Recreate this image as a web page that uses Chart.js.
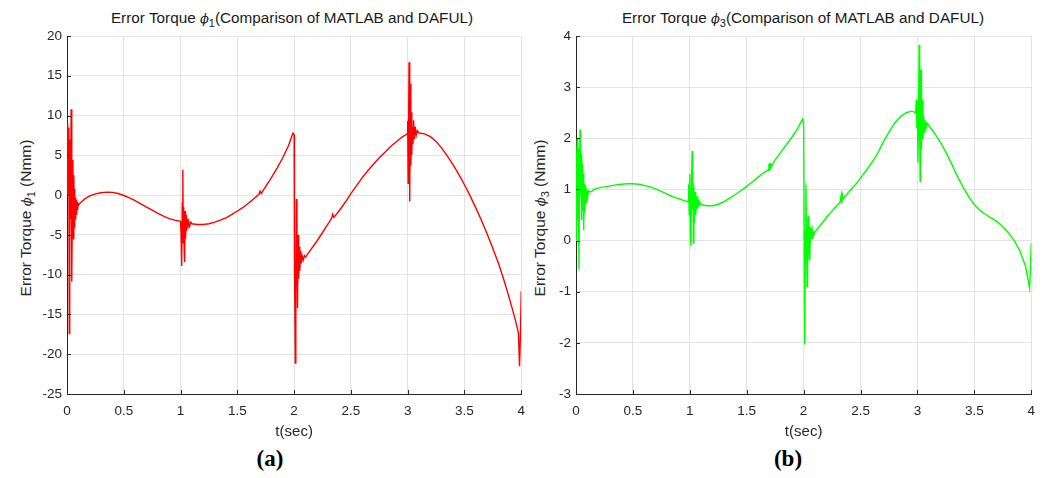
<!DOCTYPE html>
<html>
<head>
<meta charset="utf-8">
<script src="https://cdn.jsdelivr.net/npm/chart.js@4.4.0/dist/chart.umd.min.js"></script>
<style>
  body { margin: 0; background: #fff; width: 1043px; height: 478px; overflow: hidden; position: relative; font-family: "Liberation Sans", Arial, sans-serif; color: #262626; }
  .box { position: absolute; top: 0; }
  .title { position: absolute; top: 9px; font-size: 15.3px; white-space: nowrap; transform: translateX(-50%); color: #1a1a1a; }
  .ylab { position: absolute; font-size: 15.5px; white-space: nowrap; transform: translate(-50%, -50%) rotate(-90deg); }
  .sub { font-size: 11px; position: relative; top: 4px; }
  .phi { font-style: italic; font-family: "DejaVu Serif", serif; font-size: 13px; }
  .cap { position: absolute; top: 446px; font-family: "Liberation Serif", "DejaVu Serif", serif; font-weight: bold; font-size: 23px; transform: translateX(-50%); color: #000; }
</style>
</head>
<body>
<div class="title" style="left:292px">Error Torque <span class="phi">ϕ</span><span class="sub">1</span>(Comparison of MATLAB and DAFUL)</div>
<div class="title" style="left:803px">Error Torque <span class="phi">ϕ</span><span class="sub">3</span>(Comparison of MATLAB and DAFUL)</div>
<div class="ylab" style="left:26px; top:218px">Error Torque <span class="phi">ϕ</span><span class="sub">1</span> (Nmm)</div>
<div class="ylab" style="left:540px; top:218px">Error Torque <span class="phi">ϕ</span><span class="sub">3</span> (Nmm)</div>
<div class="box" style="left:0"><canvas id="chart1" width="534" height="445"></canvas></div>
<div class="box" style="left:520px"><canvas id="chart3" width="524" height="445"></canvas></div>
<div class="cap" style="left:270px">(a)</div>
<div class="cap" style="left:788px">(b)</div>
<script>
// time axis (sec) and error torque phi_1 (Nmm)
const t1 = [
  0, 0.004, 0.008, 0.012, 0.016, 0.02, 0.024, 0.028, 0.032, 0.036, 0.04, 0.044, 0.048, 0.052, 0.056,
  0.06, 0.064, 0.068, 0.072, 0.076, 0.08, 0.085, 0.09, 0.095, 0.1, 0.11, 0.13, 0.16, 0.2, 0.25,
  0.3, 0.35, 0.4, 0.45, 0.5, 0.55, 0.6, 0.65, 0.7, 0.75, 0.8, 0.85, 0.9, 0.95,
  1.0, 1.005, 1.01, 1.015, 1.02, 1.024, 1.028, 1.032, 1.036, 1.04, 1.044, 1.048, 1.052, 1.058, 1.064,
  1.07, 1.08, 1.09, 1.1, 1.15, 1.2, 1.25, 1.3, 1.35, 1.4, 1.45, 1.5, 1.55, 1.6, 1.65,
  1.69, 1.7, 1.71, 1.75, 1.8, 1.85, 1.9, 1.95, 1.99,
  2.0, 2.003, 2.01, 2.015, 2.02, 2.025, 2.03, 2.035, 2.04, 2.045, 2.05, 2.056, 2.062, 2.07, 2.08,
  2.09, 2.1, 2.15, 2.2, 2.25, 2.3, 2.33, 2.34, 2.35, 2.4, 2.45, 2.5, 2.55, 2.6, 2.65,
  2.7, 2.75, 2.8, 2.85, 2.9, 2.95, 2.995,
  3.0, 3.004, 3.008, 3.012, 3.016, 3.02, 3.024, 3.028, 3.032, 3.036, 3.04, 3.046, 3.052, 3.058, 3.066,
  3.075, 3.085, 3.1, 3.15, 3.2, 3.25, 3.3, 3.35, 3.4, 3.45, 3.5, 3.55, 3.6, 3.65,
  3.7, 3.75, 3.8, 3.85, 3.9, 3.95, 3.975, 3.985, 3.992, 4.0
];
const torque1 = [
  0, 6, 9.0, 2, 8.5, -17.4, -6, 7, -3, 10.8, 3, -10.9, 0, 4.4, -5.5,
  2.5, -4, 0.8, -3, -0.3, -2.4, -0.6, -1.8, -0.9, -1.3, -1.1, -0.8, -0.45, -0.1, 0.15,
  0.3, 0.37, 0.35, 0.2, -0.05, -0.35, -0.7, -1.1, -1.5, -1.9, -2.3, -2.65, -2.95, -3.15,
  -3.3, -5, -8.9, -1, 3.2, -6, -1.5, -7, -8.4, -2, -5.5, -2.5, -4.5, -3, -4.2,
  -3.3, -3.9, -3.4, -3.6, -3.7, -3.7, -3.6, -3.4, -3.15, -2.85, -2.45, -2.0, -1.55, -1.0, -0.4,
  0.1, 0.5, 0.2, 1.1, 2.2, 3.4, 4.7, 6.2, 7.8,
  7.6, -8, -21.1, -10, -0.5, -8, -14.2, -5, -10.5, -6.5, -9.5, -7, -8.6, -7.6, -8.2,
  -7.6, -7.8, -6.8, -5.8, -4.7, -3.6, -2.9, -2.4, -2.8, -1.9, -0.9, 0.2, 1.2, 2.2, 3.1,
  3.9, 4.7, 5.4, 6.1, 6.7, 7.3, 7.7,
  9.3, 1.5, 9, 16.7, 3, -0.8, 14, 3.7, 10.4, 5, 8.5, 6.4, 9.4, 7, 8.6,
  7.5, 8.1, 7.8, 7.7, 7.35, 6.75, 5.9, 4.9, 3.8, 2.6, 1.3, -0.1, -1.6, -3.2,
  -4.9, -6.7, -8.6, -10.8, -13.2, -15.8, -17.3, -21.5, -18, -12.1
];

// time axis (sec) and error torque phi_3 (Nmm)
const t3 = [
  0, 0.004, 0.008, 0.012, 0.016, 0.02, 0.026, 0.03, 0.036, 0.04, 0.044, 0.05, 0.054, 0.058, 0.062,
  0.068, 0.072, 0.078, 0.084, 0.09, 0.096, 0.102, 0.11, 0.13, 0.16, 0.2, 0.25, 0.3, 0.35, 0.4,
  0.45, 0.5, 0.55, 0.6, 0.65, 0.7, 0.75, 0.8, 0.85, 0.9, 0.95, 0.985,
  0.99, 0.995, 1.0, 1.005, 1.01, 1.015, 1.02, 1.024, 1.028, 1.032, 1.036, 1.04, 1.046, 1.052, 1.058,
  1.064, 1.072, 1.08, 1.09, 1.1, 1.15, 1.2, 1.25, 1.3, 1.35, 1.4, 1.45, 1.5, 1.55, 1.6, 1.65,
  1.69, 1.695, 1.7, 1.705, 1.71, 1.75, 1.8, 1.85, 1.9, 1.95, 1.99,
  2.0, 2.005, 2.01, 2.015, 2.02, 2.025, 2.03, 2.035, 2.04, 2.045, 2.05, 2.055, 2.06, 2.066, 2.074,
  2.082, 2.09, 2.1, 2.15, 2.2, 2.25, 2.3, 2.32, 2.33, 2.335, 2.34, 2.35, 2.4, 2.45, 2.5,
  2.55, 2.6, 2.65, 2.7, 2.75, 2.8, 2.85, 2.9, 2.95, 2.985,
  2.99, 2.995, 3.0, 3.004, 3.01, 3.015, 3.02, 3.024, 3.028, 3.032, 3.036, 3.042, 3.048, 3.054, 3.06,
  3.068, 3.076, 3.085, 3.1, 3.15, 3.2, 3.25, 3.3, 3.35, 3.4, 3.45, 3.5, 3.55, 3.6, 3.65,
  3.7, 3.75, 3.8, 3.85, 3.9, 3.95, 3.985, 3.992, 4.0
];
const torque3 = [
  0, 1.0, 1.7, 2.0, 0.4, 1.8, -0.57, 1.0, 2.17, 0.9, 1.7, 0.4, 1.5, 0.6, 1.3,
  0.2, 1.1, 0.55, 1.08, 0.75, 1.0, 0.85, 0.97, 0.95, 1.0, 1.03, 1.05, 1.07, 1.09, 1.1,
  1.11, 1.11, 1.1, 1.08, 1.05, 1.01, 0.96, 0.91, 0.86, 0.82, 0.78, 0.76,
  1.1, 0.5, 1.3, 0.1, -0.11, 1.1, 1.75, 0.6, 1.26, -0.05, 1.06, 0.35, 0.95, 0.5, 0.87,
  0.62, 0.8, 0.68, 0.74, 0.7, 0.68, 0.68, 0.71, 0.76, 0.83, 0.9, 0.98, 1.06, 1.15, 1.24, 1.33,
  1.38, 1.5, 1.36, 1.52, 1.42, 1.58, 1.73, 1.88, 2.03, 2.2, 2.38,
  2.3, 0.2, -2.03, 0, 1.1, 0.2, -0.9, 0.1, 0.48, -0.1, -0.37, 0.28, -0.05, 0.25, 0.05,
  0.2, 0.12, 0.17, 0.31, 0.45, 0.58, 0.7, 0.75, 0.88, 0.72, 0.9, 0.82, 0.96, 1.08, 1.22,
  1.37, 1.53, 1.7, 1.93, 2.12, 2.3, 2.42, 2.5, 2.53, 2.5,
  2.76, 2.2, 2.7, 1.52, 2.5, 3.83, 2.0, 1.16, 2.6, 3.34, 1.78, 2.76, 1.97, 2.43, 2.1,
  2.35, 2.2, 2.3, 2.25, 2.1, 1.93, 1.73, 1.5, 1.26, 1.05, 0.86, 0.7, 0.59, 0.51, 0.44,
  0.37, 0.27, 0.15, 0.0, -0.2, -0.5, -0.93, -0.6, -0.05
];

const AXIS_COLOR = '#262626';
const GRID_COLOR = '#e3e3e3';

// MATLAB style tick marks pointing into the plot
const innerTicks = {
  id: 'innerTicks',
  afterDraw(chart) {
    const { ctx, chartArea, scales } = chart;
    ctx.save();
    ctx.strokeStyle = AXIS_COLOR;
    ctx.lineWidth = 1;
    ctx.beginPath();
    scales.x.ticks.forEach((tk) => {
      const px = Math.round(scales.x.getPixelForValue(tk.value)) + 0.5;
      ctx.moveTo(px, chartArea.bottom);
      ctx.lineTo(px, chartArea.bottom - 4);
    });
    scales.y.ticks.forEach((tk) => {
      const py = Math.round(scales.y.getPixelForValue(tk.value)) + 0.5;
      ctx.moveTo(chartArea.left, py);
      ctx.lineTo(chartArea.left + 4, py);
    });
    ctx.stroke();
    ctx.restore();
  }
};

// plain tick text, "4" not "4.0"
const plainLabel = (v) => String(parseFloat(Number(v).toFixed(2)));

function makeChart(id, times, values, color, yMin, yMax, yStep, yWidth, rightPad) {
  const ctx = document.getElementById(id).getContext('2d');
  return new Chart(ctx, {
    type: 'line',
    data: {
      datasets: [{
        data: times.map((t, i) => ({ x: t, y: values[i] })),
        borderColor: color,
        borderWidth: 1.4,
        pointRadius: 0,
        tension: 0,
      }],
    },
    options: {
      responsive: false,
      animation: false,
      devicePixelRatio: 1,
      layout: { padding: { top: 36, right: rightPad, left: 0, bottom: 0 } },
      plugins: { legend: { display: false }, tooltip: { enabled: false } },
      scales: {
        x: {
          type: 'linear',
          min: 0,
          max: 4,
          ticks: { stepSize: 0.5, color: AXIS_COLOR, padding: 9, maxRotation: 0, callback: plainLabel, font: { family: 'Liberation Sans', size: 13.5 } },
          grid: { color: GRID_COLOR, drawTicks: false },
          border: { color: AXIS_COLOR, width: 1 },
          title: { display: true, text: 't(sec)', color: AXIS_COLOR, padding: { top: 0, bottom: 4 }, font: { family: 'Liberation Sans', size: 15 } },
          afterFit(scale) { scale.height = 51; },
        },
        y: {
          min: yMin,
          max: yMax,
          ticks: { stepSize: yStep, color: AXIS_COLOR, padding: 5, callback: plainLabel, font: { family: 'Liberation Sans', size: 13.5 } },
          grid: { color: GRID_COLOR, drawTicks: false },
          border: { color: AXIS_COLOR, width: 1 },
          afterFit(scale) { scale.width = yWidth; },
        },
      },
    },
    plugins: [innerTicks],
  });
}

makeChart('chart1', t1, torque1, '#ff0000', -25, 20, 5, 67, 5);
makeChart('chart3', t3, torque3, '#00ff00', -3, 4, 1, 56, 11);
</script>
</body>
</html>
